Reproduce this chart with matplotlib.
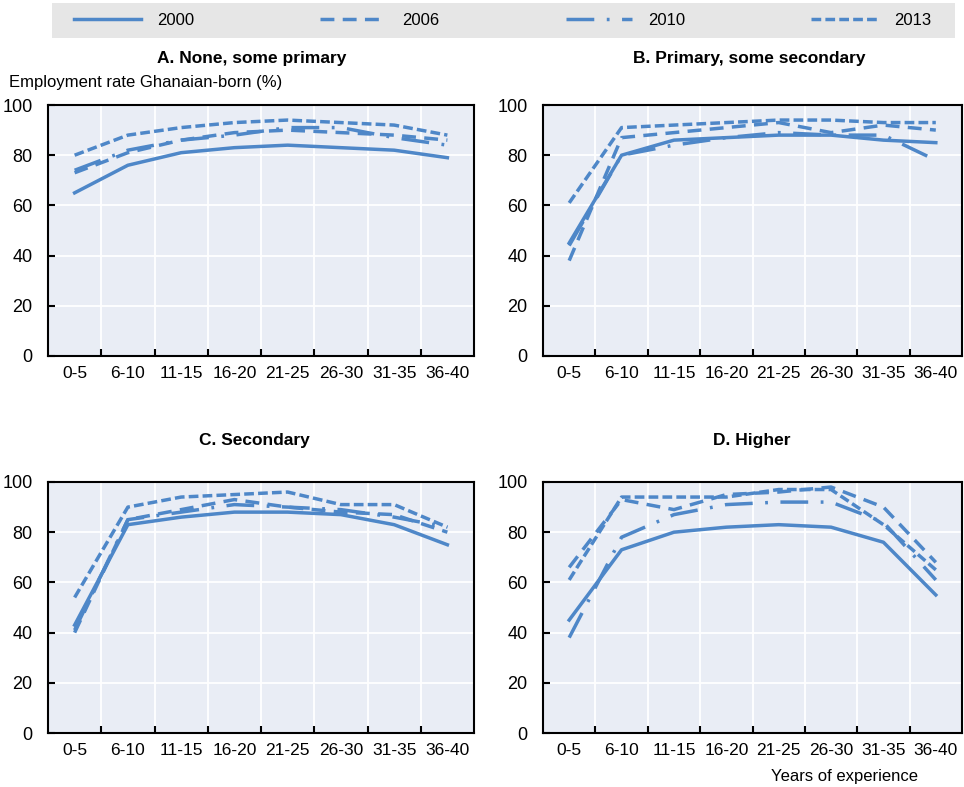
import matplotlib
matplotlib.use('Agg')
import matplotlib.pyplot as plt
from matplotlib.lines import Line2D
from matplotlib.patches import Rectangle

plt.rcParams['font.family'] = ['Liberation Sans', 'DejaVu Sans']
plt.rcParams['lines.scale_dashes'] = False

cats = ['0-5', '6-10', '11-15', '16-20', '21-25', '26-30', '31-35', '36-40']
years = ['2000', '2006', '2010', '2013']
titles = ['A. None, some primary', 'B. Primary, some secondary', 'C. Secondary', 'D. Higher']

# employment rate (%) by years of experience, one list per census year
a_2000 = [65, 76, 81, 83, 84, 83, 82, 79]
a_2006 = [73, 81, 86, 89, 90, 89, 88, 86]
a_2010 = [74, 82, 86, 88, 91, 91, 87, 84]
a_2013 = [80, 88, 91, 93, 94, 93, 92, 88]

b_2000 = [45, 80, 86, 87, 88, 88, 86, 85]
b_2006 = [38, 87, 89, 91, 93, 89, 92, 90]
b_2010 = [44, 80, 84, 87, 89, 88, 88, 78]
b_2013 = [61, 91, 92, 93, 94, 94, 93, 93]

c_2000 = [43, 83, 86, 88, 88, 87, 83, 75]
c_2006 = [40, 85, 89, 93, 90, 88, 87, 80]
c_2010 = [41, 85, 88, 91, 90, 89, 86, 82]
c_2013 = [54, 90, 94, 95, 96, 91, 91, 82]

d_2000 = [45, 73, 80, 82, 83, 82, 76, 55]
d_2006 = [66, 93, 89, 95, 96, 98, 90, 68]
d_2010 = [38, 78, 87, 91, 92, 92, 84, 61]
d_2013 = [61, 94, 94, 94, 97, 97, 83, 65]

panels = [
    [a_2000, a_2006, a_2010, a_2013],
    [b_2000, b_2006, b_2010, b_2013],
    [c_2000, c_2006, c_2010, c_2013],
    [d_2000, d_2006, d_2010, d_2013],
]

blue = '#4e87c8'
styles = ['-', (0, (10, 6)), (0, (20, 9, 2, 9)), (0, (7, 3))]
lw = 2.5

W, H = 964, 787
fig = plt.figure(figsize=(W / 100, H / 100), dpi=100)

# axes boxes in pixels: left, top, right, bottom
boxes = [(48, 105, 474, 356), (543, 105, 962, 356),
         (48, 482, 474, 733), (543, 482, 962, 733)]
title_pos = [(252, 58), (749, 58), (254, 441), (752, 441)]

x = list(range(len(cats)))
for i, (l, t, r, b) in enumerate(boxes):
    ax = fig.add_axes([l / W, 1 - b / H, (r - l) / W, (b - t) / H])
    ax.set_facecolor('#e9edf5')
    for k in range(4):
        ax.plot(x, panels[i][k], color=blue, lw=lw, linestyle=styles[k])
    ax.set_xlim(-0.5, len(cats) - 0.5)
    ax.set_ylim(0, 100)
    ax.set_yticks([0, 20, 40, 60, 80, 100])
    ax.set_xticks(x)
    ax.set_xticklabels(cats)
    ax.set_xticks([v + 0.5 for v in x[:-1]], minor=True)
    ax.tick_params(axis='x', which='major', length=0, pad=7, labelsize=12.5)
    ax.tick_params(axis='x', which='minor', direction='in', length=5, width=1.5)
    ax.tick_params(axis='y', direction='in', length=5, width=1.5, pad=11, labelsize=13)
    ax.grid(axis='y', which='major', color='white', lw=1.3)
    ax.grid(axis='x', which='minor', color='white', lw=1.3)
    ax.set_axisbelow(True)
    for s in ax.spines.values():
        s.set_linewidth(1.5)
        s.set_color('black')
    tx, ty = title_pos[i]
    fig.text(tx / W, 1 - ty / H, titles[i], ha='center', va='center',
             fontsize=12.5, fontweight='bold')

fig.text(9 / W, 1 - 82 / H, 'Employment rate Ghanaian-born (%)', ha='left', va='center', fontsize=12)
fig.text(918 / W, 1 - 777 / H, 'Years of experience', ha='right', va='center', fontsize=12)

# legend band
fig.patches.append(Rectangle((52 / W, 1 - 38 / H), (955 - 52) / W, 35 / H,
                             transform=fig.transFigure, facecolor='#e6e6e6',
                             edgecolor='none', zorder=0))
handles = [Line2D([0], [0], color=blue, lw=lw, linestyle=s) for s in styles]
fig.legend(handles, years, loc='center left', bbox_to_anchor=(74 / W, 1 - 20.5 / H),
           ncol=4, frameon=False, fontsize=12, handlelength=4.0, handletextpad=0.96,
           columnspacing=7.56, borderpad=0, borderaxespad=0)

fig.savefig('out.png', dpi=100)
